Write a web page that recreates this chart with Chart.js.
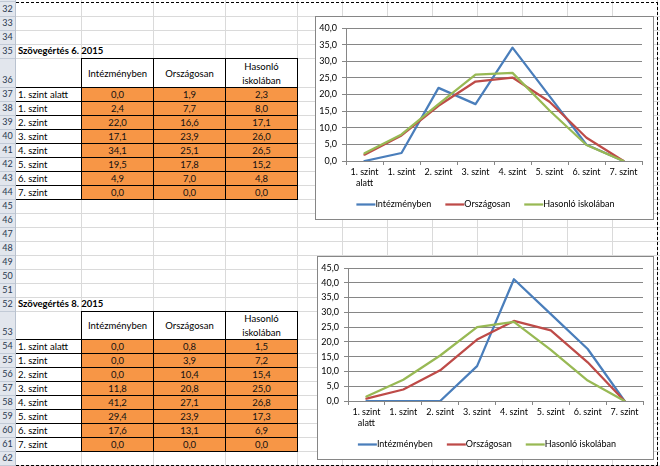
<!DOCTYPE html>
<html><head><meta charset="utf-8">
<script src="https://cdn.jsdelivr.net/npm/chart.js@4.4.1/dist/chart.umd.min.js"></script>
<style>
html,body{margin:0;padding:0;width:660px;height:466px;overflow:hidden;background:#fff;}
#sheet{position:absolute;left:0;top:0;width:660px;height:466px;font-family:Lato,"Liberation Sans",sans-serif;font-size:9.5px;color:#000;}
#sheet div{position:absolute;box-sizing:border-box;white-space:nowrap;}
.chartbox{position:absolute;box-sizing:border-box;border:1px solid #868686;background:#fff;}
.chartbox canvas{display:block;}
</style>
</head><body>
<div id="sheet"></div>
<div class="chartbox" id="box6" style="left:315px;top:16px;width:339px;height:204px;"><canvas id="c6" width="337" height="202" style="width:337px;height:202px"></canvas></div>
<div class="chartbox" id="box8" style="left:317px;top:256px;width:337px;height:204px;"><canvas id="c8" width="335" height="202" style="width:335px;height:202px"></canvas></div>
<script>
// ---------- data ----------
const categories = ['1. szint alatt','1. szint','2. szint','3. szint','4. szint','5. szint','6. szint','7. szint'];
const seriesNames = ['Intézményben','Országosan','Hasonló iskolában'];
const title6 = 'Szövegértés 6. 2015';
const inst6 = [0.0, 2.4, 22.0, 17.1, 34.1, 19.5, 4.9, 0.0];
const nat6  = [1.9, 7.7, 16.6, 23.9, 25.1, 17.8, 7.0, 0.0];
const sim6  = [2.3, 8.0, 17.1, 26.0, 26.5, 15.2, 4.8, 0.0];
const title8 = 'Szövegértés 8. 2015';
const inst8 = [0.0, 0.0, 0.0, 11.8, 41.2, 29.4, 17.6, 0.0];
const nat8  = [0.8, 3.9, 10.4, 20.8, 27.1, 23.9, 13.1, 0.0];
const sim8  = [1.5, 7.2, 15.4, 25.0, 26.8, 17.3, 6.9, 0.0];
const yMax6 = 40, yMax8 = 45, yStep = 5;
const firstRow = 32, lastRow = 62;
const tableStart6 = 35, tableStart8 = 52;

// ---------- styles ----------
const COLORS = ['#4a7ebb', '#be4b48', '#98b954'];
const FONT = 'Lato';
const fmt = v => Number(v).toFixed(1).replace('.', ',');

// ---------- spreadsheet ----------
const sheet = document.getElementById('sheet');
function el(style, html){ const d=document.createElement('div'); Object.assign(d.style, style); if(html!==undefined) d.innerHTML=html; sheet.appendChild(d); return d; }
const px = v => v + 'px';
const tallRows = {}; tallRows[tableStart6+1] = 29; tallRows[tableStart8+1] = 28;
const rowTop = {}; let yy = 2;
for (let r = firstRow; r <= lastRow + 1; r++) { rowTop[r] = yy; yy += (tallRows[r] || 14); }
const rh = r => tallRows[r] || 14;
const colX = [15, 81, 153, 225, 297, 342, 387, 432, 477, 522, 567, 612, 657];

// row header column
el({left:'0px', top:'0px', width:'15px', height:'466px', background:'#e2e6ed'});
// gridlines
for (let r = firstRow + 1; r <= lastRow + 1; r++) {
  el({left:'15px', top:px(rowTop[r]), width:'645px', height:'1px', background:'#dadada'});
  el({left:'0px', top:px(rowTop[r]), width:'15px', height:'1px', background:'#c2cad6'});
}
el({left:'0px', top:'1px', width:'15px', height:'1px', background:'#c2cad6'});
colX.forEach((x, i) => el({left:px(x), top:'0px', width:'1px', height:'466px', background: i === 0 ? '#b9c2cf' : '#dadada'}));
// row numbers
for (let r = firstRow; r <= lastRow; r++) {
  el({left:'0px', top:px(rowTop[r] + rh(r) - 14), width:'15px', height:'14px', lineHeight:'14px', textAlign:'center', color:'#2a3950', fontSize:'9px'}, String(r));
}

function buildTable(start, title, series) {
  const hdr = start + 1, d0 = start + 2, d1 = start + 9;
  el({left:'18px', top:px(rowTop[start]), height:'14px', lineHeight:'14px', fontWeight:'bold'}, title);
  // orange fill
  el({left:px(colX[1]), top:px(rowTop[d0]), width:px(colX[4]-colX[1]), height:px(rowTop[d1+1]-rowTop[d0]), background:'#f79646'});
  // header texts
  for (let c = 0; c < 3; c++) {
    const words = seriesNames[c].split(' ');
    const h = rh(hdr);
    const html = words.length > 1 ? words.join('<br>') : words[0];
    const lines = words.length;
    el({left:px(colX[c+1]+1), top:px(rowTop[hdr] + (h - lines*14)/2 + 1), width:px(colX[c+2]-colX[c+1]-1), height:px(lines*14), lineHeight:'14px', textAlign:'center'}, html);
  }
  // data rows
  for (let i = 0; i < categories.length; i++) {
    const r = d0 + i;
    el({left:'18px', top:px(rowTop[r]+1), height:'14px', lineHeight:'14px'}, categories[i]);
    for (let c = 0; c < 3; c++) {
      el({left:px(colX[c+1]+1), top:px(rowTop[r]+1), width:px(colX[c+2]-colX[c+1]-1), height:'14px', lineHeight:'14px', textAlign:'center', color:'#111'}, fmt(series[c][i]));
    }
  }
  // black borders
  el({left:px(colX[1]), top:px(rowTop[hdr]), width:px(colX[4]-colX[1]+1), height:'1px', background:'#000'});
  for (let r = d0; r <= d1 + 1; r++) el({left:'16px', top:px(rowTop[r]), width:px(colX[4]-16+1), height:'1px', background:'#000'});
  for (let c = 1; c <= 4; c++) el({left:px(colX[c]), top:px(rowTop[hdr]), width:'1px', height:px(rowTop[d1+1]-rowTop[hdr]+1), background:'#000'});
}
buildTable(tableStart6, title6, [inst6, nat6, sim6]);
buildTable(tableStart8, title8, [inst8, nat8, sim8]);

// print-area dashed border
const dashH = 'repeating-linear-gradient(to right, #000 0 3px, transparent 3px 5px)';
const dashV = 'repeating-linear-gradient(to bottom, #000 0 3px, transparent 3px 5px)';
el({left:'16px', top:'2px', width:'642px', height:'1px', background:dashH});
el({left:'16px', top:'465px', width:'642px', height:'1px', background:dashH});
el({left:'657px', top:'2px', width:'1px', height:'464px', background:dashV});

// ---------- charts ----------
const xlLegend = {
  id: 'xlLegend',
  afterDraw(chart, args, opts) {
    const ctx = chart.ctx; ctx.save();
    ctx.font = opts.size + 'px ' + FONT;
    const items = chart.data.datasets.map(ds => ({label: ds.label, color: ds.borderColor, w: ctx.measureText(ds.label).width}));
    const lineW = 19, gap = 14;
    const total = items.reduce((s, it) => s + lineW + it.w, 0) + gap * (items.length - 1);
    let x = opts.cx - total / 2; const y = opts.y;
    items.forEach(it => {
      ctx.strokeStyle = it.color; ctx.lineWidth = 2.25; ctx.lineCap = 'butt';
      ctx.beginPath(); ctx.moveTo(x, y); ctx.lineTo(x + lineW, y); ctx.stroke();
      x += lineW;
      ctx.fillStyle = '#000'; ctx.textBaseline = 'middle'; ctx.textAlign = 'left';
      ctx.fillText(it.label, x, y);
      x += it.w + gap;
    });
    ctx.restore();
  }
};

function splitLabel(lbl) {
  const m = lbl.match(/^(.*? szint) (.+)$/);
  return m ? [m[1], m[2]] : lbl;
}

function makeChart(id, series, yMax, padR, legendCx) {
  const ctx = document.getElementById(id);
  return new Chart(ctx, {
    type: 'line',
    data: {
      labels: categories,
      datasets: series.map((s, i) => ({
        label: seriesNames[i], data: s, borderColor: COLORS[i], backgroundColor: COLORS[i],
        borderWidth: 2.25, pointRadius: 0, tension: 0, fill: false, order: 2 - i,
        borderJoinStyle: 'round', borderCapStyle: 'round'
      }))
    },
    options: {
      responsive: false, animation: false, devicePixelRatio: 1,
      layout: {padding: {left: 0, top: 11, right: padR, bottom: 0}},
      plugins: {legend: {display: false}, tooltip: {enabled: false}, xlLegend: {cx: legendCx, y: 187.5, size: 9}},
      scales: {
        x: {
          offset: true,
          grid: {offset: true, drawOnChartArea: false, drawTicks: true, tickLength: 4, color: '#868686'},
          border: {color: '#868686'},
          ticks: {autoSkip: false, maxRotation: 0, minRotation: 0, padding: 2, color: '#000',
                  font: {family: FONT, size: 9, lineHeight: 1.2},
                  callback: (v, i) => splitLabel(categories[i])},
          afterFit: s => { s.height = 58; }
        },
        y: {
          min: 0, max: yMax,
          grid: {color: '#868686', tickLength: 4},
          border: {color: '#868686'},
          ticks: {stepSize: yStep, padding: 5, color: '#000', font: {family: FONT, size: 9}, callback: v => fmt(v)},
          afterFit: s => { s.width = 30; }
        }
      }
    },
    plugins: [xlLegend]
  });
}

function draw() {
  makeChart('c6', [inst6, nat6, sim6], yMax6, 11, 169.5);
  makeChart('c8', [inst8, nat8, sim8], yMax8, 10, 169);
}
if (document.fonts && document.fonts.load) {
  document.fonts.load('9px Lato').then(draw, draw);
} else draw();
</script>
</body></html>
